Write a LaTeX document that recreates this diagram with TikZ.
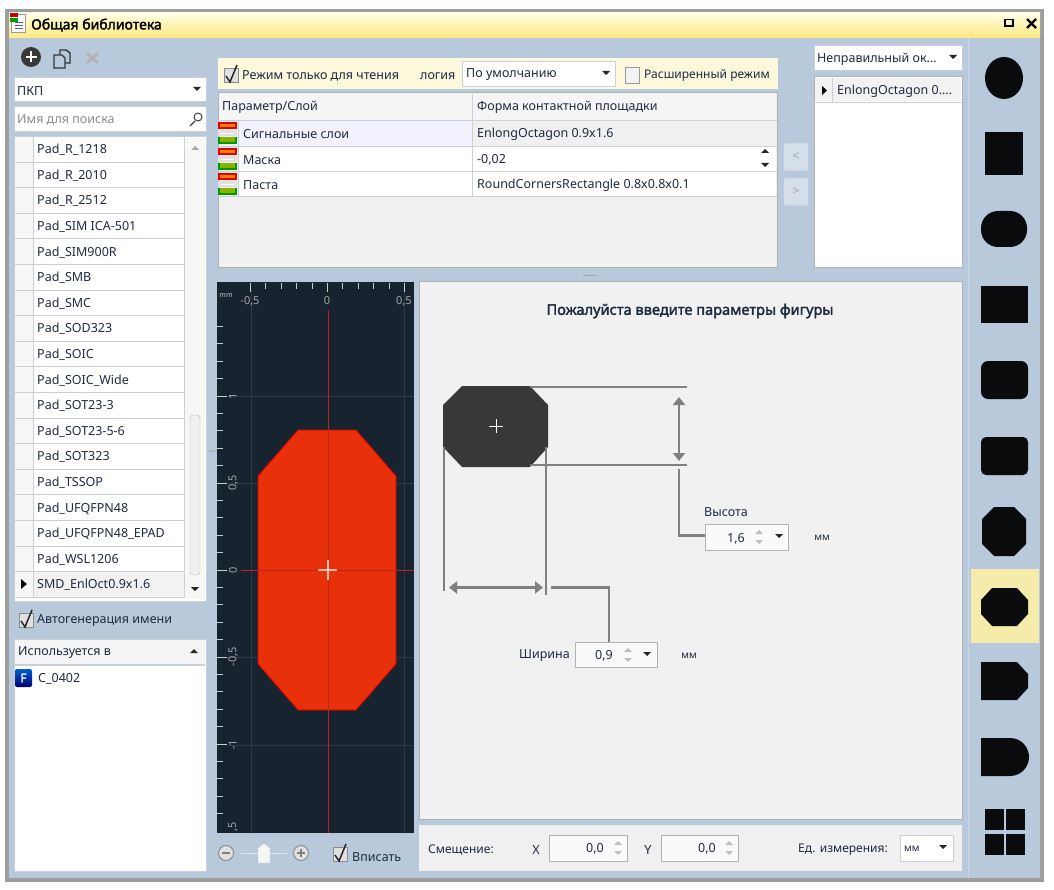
\documentclass[tikz,border=0pt]{standalone}
\usepackage{fontspec}
\setmainfont[AutoFakeBold=2.2]{Noto Sans}
\usetikzlibrary{arrows.meta}

\definecolor{win_bg}{HTML}{B8C9DC}
\definecolor{win_frame}{HTML}{9C9EA0}
\definecolor{ink}{HTML}{1E2A40}
\definecolor{grid_line}{HTML}{C9D0D8}
\definecolor{note_yellow}{HTML}{FBF8DC}
\definecolor{pick_yellow}{HTML}{F5EBAA}
\definecolor{panel_gray}{HTML}{F1F1F1}
\definecolor{view_dark}{HTML}{17232E}
\definecolor{pad_red}{HTML}{E8300A}
\definecolor{axis_red}{HTML}{B82428}
\definecolor{dim_gray}{HTML}{808080}
\definecolor{shape_black}{HTML}{0A0B0D}

\newcommand{\dropmark}[1]{\fill[black!85] (#1) ++(-4,-2) -- ++(8,0) -- ++(-4,4) -- cycle;}
\newcommand{\upmark}[2][black!85]{\fill[#1] (#2) ++(-4,2) -- ++(8,0) -- ++(-4,-4) -- cycle;}
\newcommand{\spinmark}[1]{\fill[black!25] (#1) ++(-4,-3) -- ++(8,0) -- ++(-4,-4) -- cycle; \fill[black!25] (#1) ++(-4,3) -- ++(8,0) -- ++(-4,4) -- cycle;}
\newcommand{\tickbox}[1]{\draw[black!45,fill=black!12] (#1) ++(-7,-7) rectangle ++(14,14); \draw[black!85,line width=1.5pt] (#1) ++(-5,1) -- ++(4,6) -- ++(7,-17);}
\newcommand{\layericon}[1]{\fill[red!90!black] (218,#1) rectangle (237,#1+7); \fill[orange] (220,#1+2) rectangle (235,#1+5); \fill[black!12] (218,#1+8) rectangle (237,#1+14); \draw[white] (221,#1+11) -- (234,#1+11); \fill[green!60!black] (218,#1+15) rectangle (237,#1+22); \fill[lime!70!black] (220,#1+15) rectangle (235,#1+20);}

\begin{document}
\begin{tikzpicture}[
x=1pt, y=-1pt,
text_small/.style={font=\fontsize{12.5}{14}\selectfont, text=ink, inner sep=0pt, yshift=-1pt},
text_left/.style={text_small, anchor=west},
text_right/.style={text_small, anchor=east},
text_gray/.style={text_left, text=black!45},
white_box/.style={rectangle, draw=grid_line, fill=white, inner sep=0pt, line width=1pt},
edit_box/.style={rectangle, draw=black!30, fill=black!2, inner sep=0pt, line width=1pt},
list_row/.style={rectangle, draw=grid_line, fill=white, inner sep=0pt, minimum width=151, minimum height=25.6},
side_shape/.style={fill=shape_black},
dim_line/.style={draw=dim_gray, line width=2.2pt},
dim_arrow/.style={dim_line, {Triangle[width=12pt,length=8pt]}-{Triangle[width=12pt,length=8pt]}},
ruler_tick/.style={draw=black!20, line width=1pt},
ruler_text/.style={font=\fontsize{11}{12}\selectfont, text=black!35, inner sep=0pt},
soft_button/.style={rectangle, rounded corners=1.5pt, draw=black!12, fill=win_bg!60!white, inner sep=0pt, minimum width=24, minimum height=27, font=\fontsize{13}{14}\selectfont, text=black!35}
]
\useasboundingbox (0,0) rectangle (1054,890);
\fill[white] (0,0) rectangle (1054,890);

% window frame and title bar
\draw[win_frame, fill=win_bg, line width=3.5pt] (7,11) rectangle (1042,880);
\shade[top color=yellow!10!white, bottom color=orange!35!yellow!50!white] (9,13) rectangle (1040,38);
\draw[black!40, fill=white] (11,14) rectangle (25,32);
\fill[red!80!black] (10,13) rectangle (18,17);
\fill[green!60!black] (10,18) rectangle (18,22);
\foreach \y in {22,25,28} \draw[blue!30!gray] (15,\y) -- (23,\y);
\node[text_left, font=\bfseries\fontsize{14}{15}\selectfont, text=black](title_text) at (31,24) {Общая библиотека};
\draw[black, line width=1.6pt] (1005,19.5) rectangle (1013,26);
\draw[black, line width=2.2pt] (1027,19) -- (1036,28) (1036,19) -- (1027,28);
\draw[white!25!win_bg, line width=1pt] (968,38) -- (968,878);

% toolbar
\fill[black!78] (31,57) circle[radius=10];
\draw[white, line width=2.2pt] (25.5,57) -- (36.5,57) (31,51.5) -- (31,62.5);
\draw[black!80, line width=1.4pt, fill=win_bg] (60,50) -- (66,50) -- (70,53) -- (70,63) -- (60,63) -- cycle;
\draw[black!80, line width=1.4pt, fill=win_bg] (54,55) -- (62,55) -- (65,58) -- (65,68) -- (54,68) -- cycle;
\draw[black!30, line width=3pt] (87,53) -- (98,63) (98,53) -- (87,63);

% library combo, search
\node[white_box, minimum width=192, minimum height=24](lib_combo) at (110,90) {};
\node[text_left](lib_text) at (17,90) {ПКП};
\dropmark{197,89}
\node[white_box, minimum width=192, minimum height=25](search_box) at (110,119) {};
\node[text_gray](search_text) at (17,119) {Имя для поиска};
\draw[black!75, line width=1pt] (198,117) circle[radius=4];
\draw[black!75, line width=1.4pt] (195,121) -- (190,126);

% pad list
\node[white_box, minimum width=192, minimum height=464](list_box) at (110,369) {};
\fill[black!3] (185,138) rectangle (205,599);
\foreach \name [count=\i from 0] in {Pad\_R\_1218,Pad\_R\_2010,Pad\_R\_2512,Pad\_SIM ICA-501,Pad\_SIM900R,Pad\_SMB,Pad\_SMC,Pad\_SOD323,Pad\_SOIC,Pad\_SOIC\_Wide,Pad\_SOT23-3,Pad\_SOT23-5-6,Pad\_SOT323,Pad\_TSSOP,Pad\_UFQFPN48,Pad\_UFQFPN48\_EPAD,Pad\_WSL1206}{
  \node[list_row, fill=black!3, minimum width=19](mark_\i) at (23.5,149+25.6*\i) {};
  \node[list_row](row_\i) at (108.5,149+25.6*\i) {};
  \node[text_left](row_text_\i) at (37,149+25.6*\i) {\name};
}
\node[list_row, fill=black!3, minimum width=19](mark_sel) at (23.5,584.2) {};
\node[list_row, fill=black!5](row_sel) at (108.5,584.2) {};
\node[text_left](row_text_sel) at (37,584) {SMD\_EnlOct0.9x1.6};
\fill[black] (21,579) -- (27,584) -- (21,589) -- cycle;
\upmark[black!35]{195,148}
\draw[black!30, fill=black!6, rounded corners=3pt] (190,415) rectangle (200,575);
\dropmark{195,589}

% used in
\tickbox{26,620}
\node[text_left](auto_name) at (37,620) {Автогенерация имени};
\node[white_box, minimum width=192, minimum height=232](used_box) at (110,755) {};
\fill[black!4] (15,640) rectangle (205,664);
\draw[grid_line, line width=1.4pt] (15,665) -- (205,665);
\node[text_left](used_title) at (18,652) {Используется в};
\upmark{194,651}
\shade[top color=blue!55!cyan!80!black, bottom color=blue!45!black, rounded corners=2pt] (15,669) rectangle (32,687);
\node[font=\bfseries\fontsize{12}{12}\selectfont, text=white, inner sep=0pt](used_icon) at (23.5,678) {F};
\node[text_left](used_item) at (38,678) {C\_0402};

% option bar
\fill[note_yellow] (218,58) rectangle (778,89);
\tickbox{231,75}
\node[text_left](read_only) at (242,75) {Режим только для чтения};
\node[text_left](logic_text) at (420,75) {логия};
\node[white_box, minimum width=153, minimum height=25](logic_combo) at (538.5,74) {};
\node[text_left](logic_value) at (466,74) {По умолчанию};
\dropmark{606,73}
\draw[black!40, fill=black!5] (625,67) rectangle (639,83);
\node[text_left, font=\fontsize{12}{14}\selectfont](extended) at (644,75) {Расширенный режим};

% parameter table
\node[rectangle, draw=black!30, fill=panel_gray, inner sep=0pt, line width=1pt, minimum width=559, minimum height=175](table_box) at (497.5,180.5) {};
\fill[black!4] (219,94) rectangle (776,120);
\fill[white] (238,146) rectangle (776,196);
\fill[blue!5!white] (238,121) rectangle (472,146);
\fill[black!6] (472,121) rectangle (776,146);
\foreach \y in {120,146,171,196} \draw[grid_line] (218,\y) -- (777,\y);
\draw[grid_line] (472,94) -- (472,196);
\draw[grid_line] (238,120) -- (238,196);
\node[text_left](param_head) at (222,106) {Параметр/Слой};
\node[text_left](shape_head) at (477,106) {Форма контактной площадки};
\layericon{122}
\layericon{148}
\layericon{173}
\node[text_left](signal_row) at (243,133) {Сигнальные слои};
\node[text_left](mask_row) at (243,159) {Маска};
\node[text_left](paste_row) at (243,184) {Паста};
\node[text_left](signal_value) at (477,133) {EnlongOctagon 0.9x1.6};
\node[text_left](mask_value) at (477,159) {-0,02};
\node[text_left](paste_value) at (477,184) {RoundCornersRectangle 0.8x0.8x0.1};
\fill[black!85] (761,153) -- (769,153) -- (765,149) -- cycle (761,163) -- (769,163) -- (765,167) -- cycle;
\node[soft_button](move_left) at (796,157) {<};
\node[soft_button](move_right) at (796,192) {>};

% check list
\node[white_box, minimum width=148, minimum height=25](check_combo) at (888,58) {};
\node[text_left](check_value) at (817,58) {Неправильный ок...};
\dropmark{953,57}
\node[rectangle, draw=black!30, fill=white, inner sep=0pt, line width=1pt, minimum width=148, minimum height=191](check_list) at (888,172.5) {};
\fill[black!5] (815,78) rectangle (961,101);
\draw[grid_line] (814,102) -- (962,102) (832,78) -- (832,102);
\fill[black] (822,86) -- (827,90.5) -- (822,95) -- cycle;
\node[text_left](check_item) at (837,90) {EnlongOctagon 0....};
\fill[black!35] (583,275) rectangle (597,276.5);

% preview
\fill[view_dark] (217,282) rectangle (414,833);
\begin{scope}
\clip (217,282) rectangle (414,833);
\foreach \x in {251,404} \draw[white!10!view_dark] (\x,290) -- (\x,833);
\foreach \y in {396,483,657,745} \draw[white!10!view_dark] (227,\y) -- (414,\y);
\foreach \k in {-5,...,5} \draw[ruler_tick] (327.5+15.4*\k,283) -- (327.5+15.4*\k,289);
\foreach \k in {-5,0,5} \draw[ruler_tick] (327.5+15.4*\k,283) -- (327.5+15.4*\k,292);
\foreach \k in {-14,...,14} \draw[ruler_tick] (217,570-17.4*\k) -- (223,570-17.4*\k);
\foreach \k in {-10,-5,0,5,10} \draw[ruler_tick] (217,570-17.4*\k) -- (227,570-17.4*\k);
\filldraw[draw=red!85!black, fill=pad_red, line width=0.8pt] (298,430) -- (356,430) -- (396,476) -- (396,664) -- (356,710) -- (298,710) -- (258,664) -- (258,476) -- cycle;
\draw[axis_red, line width=0.9pt] (328,310) -- (328,833);
\draw[axis_red, line width=0.9pt] (241,570) -- (414,570);
\draw[white!70!pad_red, line width=1.2pt] (318,570) -- (337,570) (328,560) -- (328,580);
\node[font=\fontsize{7}{8}\selectfont, text=black!20, inner sep=0pt](unit_text) at (226,296) {mm};
\node[ruler_text](x_neg) at (250,301) {-0,5};
\node[ruler_text](x_zero) at (327,301) {0};
\node[ruler_text](x_pos) at (404,301) {0,5};
\foreach \label/\y [count=\i] in {1/396,{0,5}/483,0/570,{-0,5}/657,-1/745,{-1,5}/832}
  \node[ruler_text, rotate=90](y_label_\i) at (233,\y) {\label};
\end{scope}

% zoom slider
\draw[black!45, fill=black!12, line width=1pt] (226,853) circle[radius=7.5];
\draw[black!50, line width=1.5pt] (222,853) -- (230,853);
\draw[white!55!win_bg, line width=1pt] (241,853) -- (287,853);
\draw[black!30, fill=black!3] (258,863) -- (258,848) -- (264,843) -- (270,848) -- (270,863) -- cycle;
\draw[black!45, fill=black!12, line width=1pt] (301,853) circle[radius=7.5];
\draw[black!50, line width=1.5pt] (297,853) -- (305,853) (301,849) -- (301,857);
\tickbox{340,854}
\node[text_left](fit_text) at (352,856) {Вписать};

% shape parameters
\fill[black!30] (209,450) rectangle (217,452);
\node[rectangle, draw=black!30, fill=panel_gray, inner sep=0pt, line width=1pt, minimum width=543, minimum height=537](form_box) at (690.5,550.5) {};
\node[font=\bfseries\fontsize{14.6}{16}\selectfont, text=ink, inner sep=0pt](form_title) at (690,311) {Пожалуйста введите параметры фигуры};

\coordinate(pad_nw) at (462,386);
\coordinate(pad_ne) at (530,386);
\coordinate(pad_se) at (530,467);
\coordinate(pad_sw) at (462,467);
\fill[black!78] (pad_nw) -- (pad_ne) -- (548,405) -- (548,447) -- (pad_se) -- (pad_sw) -- (443,447) -- (443,405) -- cycle;
\draw[white, line width=0.8pt] (489,426) -- (503,426) (496,419) -- (496,433);

\coordinate(height_top_start) at (530,387);
\coordinate(height_top_end) at (687,387);
\coordinate(height_bot_start) at (530,465);
\coordinate(height_bot_end) at (687,465);
\coordinate(width_left_top) at (444,447);
\coordinate(width_left_bot) at (444,591);
\coordinate(width_right_top) at (546,447);
\coordinate(width_right_bot) at (546,595);
\coordinate(height_arrow_top) at (679,397);
\coordinate(height_arrow_bot) at (679,461);
\coordinate(width_arrow_left) at (449,587.5);
\coordinate(width_arrow_right) at (543,587.5);
\draw[dim_line](height_top_start) -- (height_top_end);
\draw[dim_line](height_bot_start) -- (height_bot_end);
\draw[dim_line](width_left_top) -- (width_left_bot);
\draw[dim_line](width_right_top) -- (width_right_bot);
\draw[dim_arrow](height_arrow_top) -- (height_arrow_bot);
\draw[dim_arrow](width_arrow_left) -- (width_arrow_right);

\node[text_left](height_text) at (704,511) {Высота};
\node[edit_box, minimum width=83, minimum height=26](height_combo) at (746.5,537) {};
\node[text_small](height_value) at (736,538) {1,6};
\spinmark{759,537}
\dropmark{779,536}
\node[text_small, font=\fontsize{10}{10}\selectfont](height_unit) at (822,537) {мм};
\coordinate(height_turn) at (679,535.5);
\coordinate(height_start) at (679,469);
\draw[dim_line](height_start) -- (height_turn) -- (height_combo.west |- height_turn);

\node[text_right](width_text) at (570,655) {Ширина};
\node[edit_box, minimum width=82, minimum height=25](width_combo) at (616,654.5) {};
\node[text_small](width_value) at (604,655) {0,9};
\spinmark{628,655}
\dropmark{647,654}
\node[text_small, font=\fontsize{10}{10}\selectfont](width_unit) at (689,655) {мм};
\coordinate(width_start) at (551,587.5);
\coordinate(width_turn) at (609,587.5);
\draw[dim_line](width_start) -- (width_turn) -- (width_turn |- width_combo.north);

% offset bar
\fill[black!6] (419,825) rectangle (962,871);
\node[text_left, font=\fontsize{12}{14}\selectfont](offset_text) at (428,849) {Смещение:};
\node[text_small](x_text) at (536,849) {X};
\node[edit_box, minimum width=78, minimum height=26](x_box) at (588,848) {};
\node[text_right](x_value) at (604,848) {0,0};
\spinmark{618,848}
\node[text_small](y_text) at (648,849) {Y};
\node[edit_box, minimum width=77, minimum height=26](y_box) at (699.5,848) {};
\node[text_right](y_value) at (716,848) {0,0};
\spinmark{729,848}
\node[text_right, font=\fontsize{12}{14}\selectfont](units_text) at (888,849) {Ед. измерения:};
\node[white_box, minimum width=53, minimum height=26](units_combo) at (926.5,848) {};
\node[text_left, font=\fontsize{10}{10}\selectfont](units_value) at (904,848) {мм};
\dropmark{943,847}

% shape palette
\fill[pick_yellow] (971,569) rectangle (1039,643);
\fill[side_shape] (1004,78) ellipse[x radius=19, y radius=21];
\fill[side_shape] (985,132) rectangle (1023,175);
\fill[side_shape, rounded corners=17pt] (981,211) rectangle (1027,247);
\fill[side_shape] (981,286) rectangle (1028,323);
\fill[side_shape, rounded corners=7pt] (981,361) rectangle (1028,399);
\fill[side_shape, rounded corners=5pt] (981,437) rectangle (1028,475);
\fill[side_shape] (994,507) -- (1014,507) -- (1026,519) -- (1026,544) -- (1014,556) -- (994,556) -- (982,544) -- (982,519) -- cycle;
\fill[side_shape] (992,588) -- (1017,588) -- (1028,600) -- (1028,614) -- (1017,626) -- (992,626) -- (981,614) -- (981,600) -- cycle;
\fill[side_shape] (981,662) -- (1017,662) -- (1028,674) -- (1028,688) -- (1017,700) -- (981,700) -- cycle;
\fill[side_shape] (981,738) -- (1010,738) .. controls (1022,738) and (1029,748) .. (1029,757) .. controls (1029,766) and (1022,776) .. (1010,776) -- (981,776) -- cycle;
\foreach \x in {985,1006} \foreach \y in {809,834} \fill[side_shape] (\x,\y) rectangle (\x+19,\y+21);
\end{tikzpicture}
\end{document}
